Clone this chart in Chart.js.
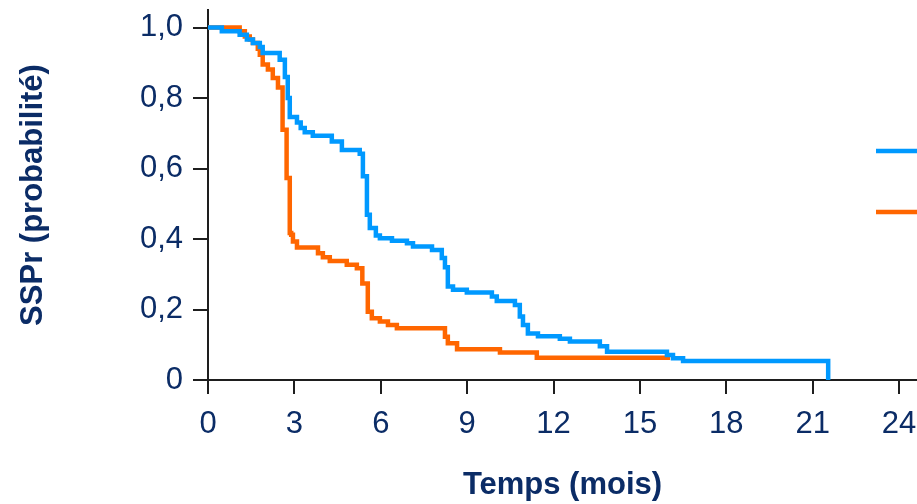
<!DOCTYPE html>
<html>
<head>
<meta charset="utf-8">
<script src="https://cdn.jsdelivr.net/npm/chart.js@4"></script>
<style>
  html, body { margin: 0; padding: 0; background: #fff; overflow: hidden; }
</style>
</head>
<body>
<canvas id="kmChart" width="917" height="504"></canvas>
<script>
// Kaplan-Meier curves, values (time in months, SSPr probability)
const blueTimes = [0, 0.48, 1.10, 1.35, 1.56, 1.80, 1.90, 2.49, 2.67, 2.77, 2.84, 3.09, 3.22, 3.36, 3.64,
  4.30, 4.65, 5.27, 5.38, 5.52, 5.62, 5.83, 5.97, 6.39, 6.91, 7.12, 7.78, 8.12, 8.23, 8.33, 8.51, 8.99,
  9.86, 10.03, 10.66, 10.83, 10.94, 11.11, 11.46, 12.22, 12.57, 13.61, 13.86, 15.94, 16.15, 16.50, 21.54];
const blueSurv = [1.0, 0.99, 0.98, 0.966, 0.956, 0.945, 0.928, 0.909, 0.86, 0.80, 0.746, 0.731, 0.715, 0.703, 0.693,
  0.677, 0.653, 0.642, 0.578, 0.469, 0.431, 0.41, 0.402, 0.395, 0.388, 0.379, 0.369, 0.346, 0.32, 0.265, 0.256, 0.248,
  0.237, 0.224, 0.213, 0.18, 0.156, 0.132, 0.124, 0.117, 0.109, 0.096, 0.080, 0.071, 0.062, 0.054, 0];

const orangeTimes = [0, 1.10, 1.28, 1.45, 1.56, 1.73, 1.80, 1.90, 2.08, 2.25, 2.43, 2.59, 2.73, 2.84, 2.89, 2.95,
  3.09, 3.82, 3.99, 4.23, 4.82, 5.17, 5.36, 5.55, 5.69, 5.97, 6.25, 6.56, 8.23, 8.33, 8.65, 10.14, 11.42, 16.05];
const orangeSurv = [1.0, 0.99, 0.975, 0.966, 0.956, 0.94, 0.923, 0.895, 0.881, 0.857, 0.83, 0.71, 0.573, 0.417, 0.412, 0.393,
  0.376, 0.36, 0.348, 0.338, 0.327, 0.317, 0.274, 0.194, 0.175, 0.166, 0.156, 0.147, 0.123, 0.104, 0.087, 0.078, 0.063, 0.063];

const xTicks = [0, 3, 6, 9, 12, 15, 18, 21, 24];
const yTicks = [0, 0.2, 0.4, 0.6, 0.8, 1.0];

const navy = '#0b2c66';
const axisColor = '#1e1e1e';
const blue = '#0099ff';
const orange = '#ff6600';
const fontFamily = 'Liberation Sans, Arial, sans-serif';

function toPoints(times, surv) {
  return times.map((t, i) => ({ x: t, y: surv[i] }));
}

// legend swatches only (the legend text is cut off in the picture)
const legendLines = {
  id: 'legendLines',
  afterDraw(chart) {
    const ctx = chart.ctx;
    const ys = [151, 212];
    ctx.save();
    chart.data.datasets.forEach((ds, i) => {
      ctx.strokeStyle = ds.borderColor;
      ctx.lineWidth = 4.5;
      ctx.beginPath();
      ctx.moveTo(876, ys[i]);
      ctx.lineTo(930, ys[i]);
      ctx.stroke();
    });
    ctx.restore();
  }
};

new Chart(document.getElementById('kmChart'), {
  type: 'line',
  data: {
    datasets: [{
      data: toPoints(blueTimes, blueSurv),
      borderColor: blue,
      borderWidth: 4.5,
      stepped: 'before',
      pointRadius: 0,
      fill: false,
      order: 0
    }, {
      data: toPoints(orangeTimes, orangeSurv),
      borderColor: orange,
      borderWidth: 4.5,
      stepped: 'before',
      pointRadius: 0,
      fill: false,
      order: 1
    }]
  },
  options: {
    responsive: false,
    animation: false,
    devicePixelRatio: 1,
    layout: { padding: { top: 10, right: 0, left: 0, bottom: 0 } },
    plugins: { legend: { display: false }, tooltip: { enabled: false } },
    scales: {
      x: {
        type: 'linear',
        min: 0,
        max: 24.625,
        afterBuildTicks: scale => { scale.ticks = xTicks.map(v => ({ value: v })); },
        afterFit: scale => {
          scale.height = 124;
          scale.paddingLeft = 0;
          scale.paddingRight = 0;
        },
        ticks: {
          color: navy,
          font: { family: fontFamily, size: 31 },
          padding: 12,
          maxRotation: 0,
          autoSkip: false
        },
        grid: { drawOnChartArea: false, drawTicks: true, tickLength: 14, color: axisColor, lineWidth: 2 },
        border: { display: true, color: axisColor, width: 2 },
        title: {
          display: true,
          text: 'Temps (mois)',
          color: navy,
          font: { family: fontFamily, size: 31, weight: 'bold' },
          padding: { top: 0, bottom: 0 }
        }
      },
      y: {
        min: 0,
        max: 1.05,
        afterBuildTicks: scale => { scale.ticks = yTicks.map(v => ({ value: v })); },
        afterFit: scale => {
          scale.width = 208;
          scale.paddingTop = 0;
          scale.paddingBottom = 0;
        },
        ticks: {
          color: navy,
          font: { family: fontFamily, size: 31 },
          padding: 10,
          callback: v => v === 0 ? '0' : v.toFixed(1).replace('.', ',')
        },
        grid: { drawOnChartArea: false, drawTicks: true, tickLength: 15, color: axisColor, lineWidth: 2 },
        border: { display: true, color: axisColor, width: 2 },
        title: {
          display: true,
          text: 'SSPr (probabilité)',
          color: navy,
          font: { family: fontFamily, size: 31, weight: 'bold' },
          padding: { top: 15, bottom: 0 }
        }
      }
    }
  },
  plugins: [legendLines]
});
</script>
</body>
</html>
